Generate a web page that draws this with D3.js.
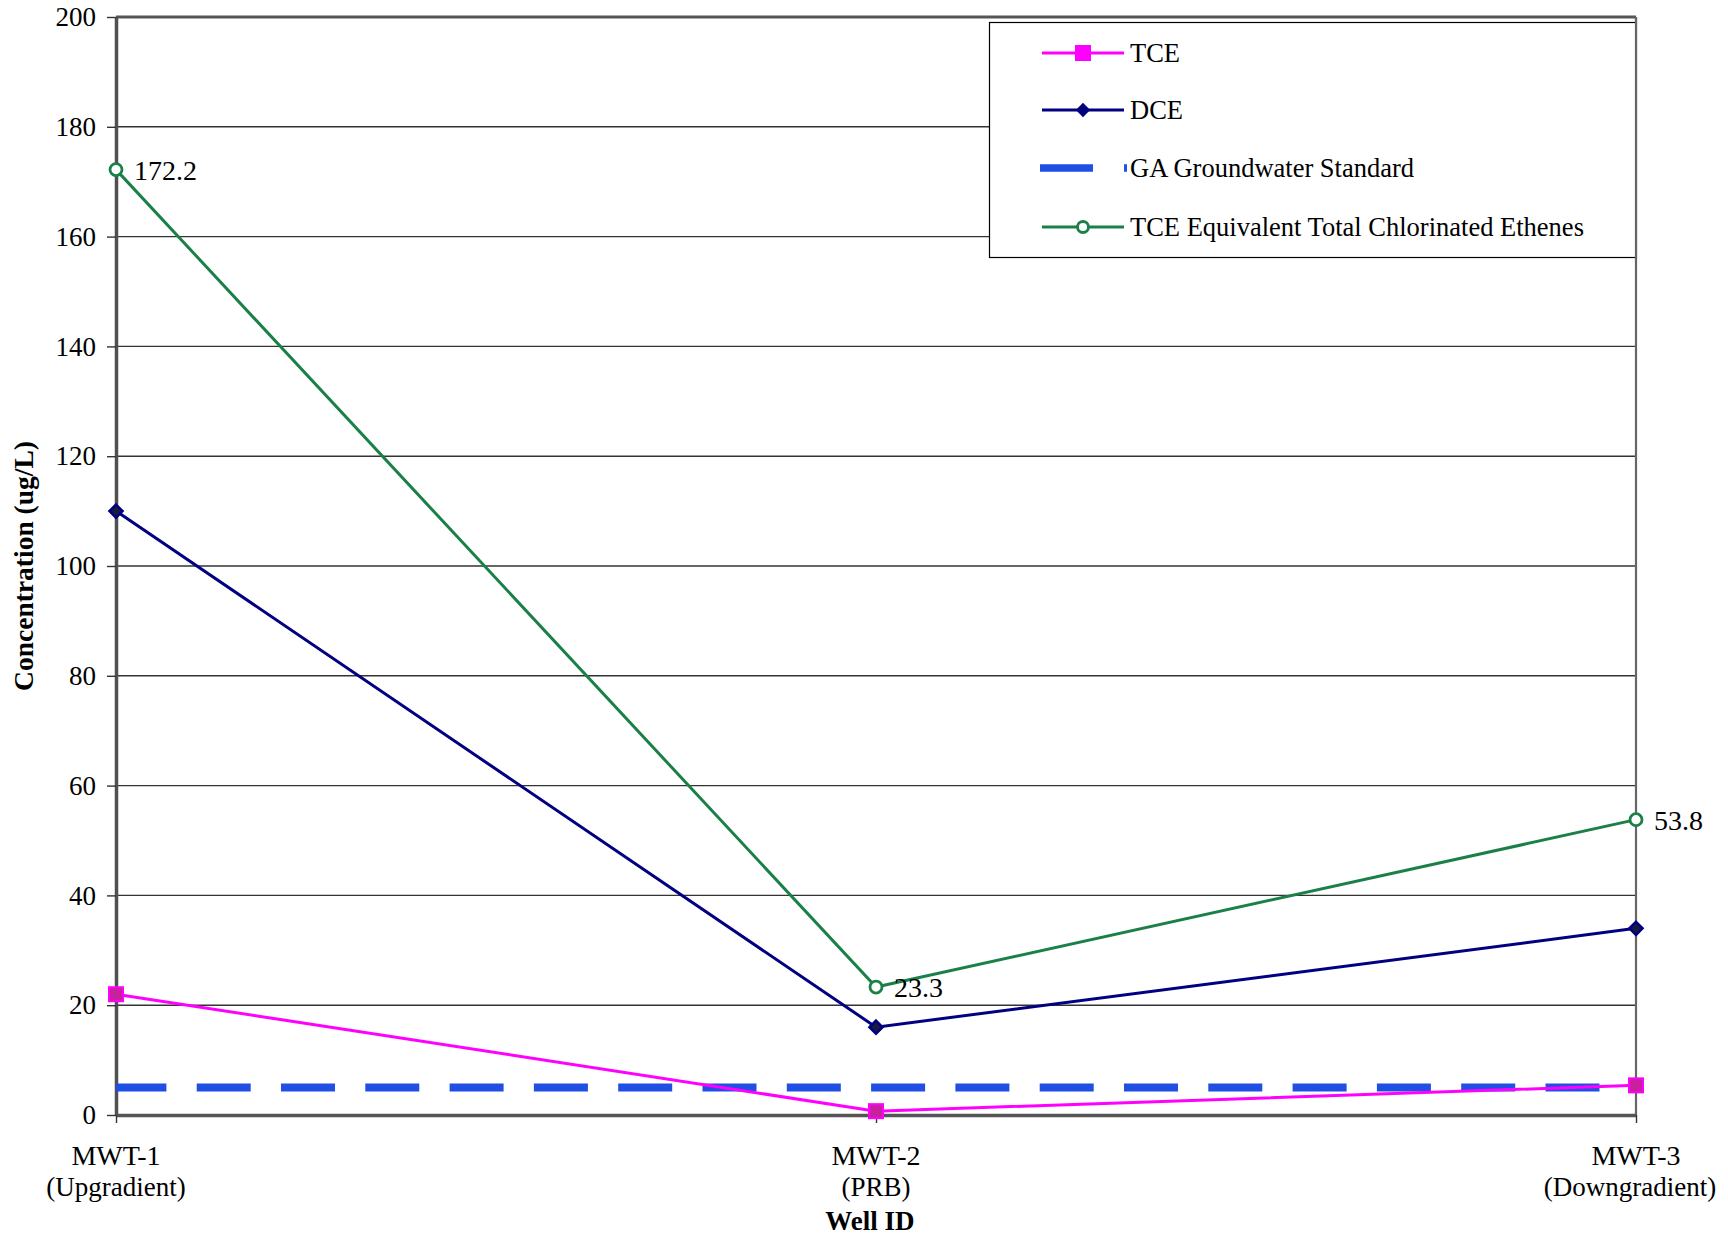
<!DOCTYPE html>
<html>
<head>
<meta charset="utf-8">
<script src="https://cdn.jsdelivr.net/npm/d3@7"></script>
<style>
  html, body { margin: 0; padding: 0; background: #fff; }
  svg { display: block; }
  text { font-family: "Liberation Serif", "Times New Roman", serif; fill: #000; }
</style>
</head>
<body>
<svg id="chart" width="1728" height="1238"></svg>
<script>
// ---- Data ----
const wells = ["MWT-1", "MWT-2", "MWT-3"];
const wellSubLabels = ["(Upgradient)", "(PRB)", "(Downgradient)"];
const tceValues = [22.0, 0.7, 5.4];
const dceValues = [110.0, 16.0, 34.0];
const gaStandard = [5, 5, 5];
const tceEquivalent = [172.2, 23.3, 53.8];
const tceEquivalentLabels = ["172.2", "23.3", "53.8"];
const yTicks = [0, 20, 40, 60, 80, 100, 120, 140, 160, 180, 200];
const legendNames = ["TCE", "DCE", "GA Groundwater Standard", "TCE Equivalent Total Chlorinated Ethenes"];

// ---- Layout ----
const plotLeft = 116, plotRight = 1636, plotTop = 17, plotBottom = 1115;

const svg = d3.select("#chart");

const x = d3.scalePoint().domain(wells).range([plotLeft, plotRight]);
const y = d3.scaleLinear().domain([0, 200]).range([plotBottom, plotTop]);

// gridlines
svg.append("g").selectAll("line")
  .data(yTicks.filter(d => d > 0 && d < 200))
  .join("line")
  .attr("x1", plotLeft).attr("x2", plotRight)
  .attr("y1", d => y(d)).attr("y2", d => y(d))
  .attr("stroke", "#333").attr("stroke-width", 1.4);

// top & right frame
svg.append("line").attr("x1", plotLeft).attr("x2", plotRight).attr("y1", y(200)).attr("y2", y(200))
  .attr("stroke", "#555").attr("stroke-width", 3);
svg.append("line").attr("x1", plotRight).attr("x2", plotRight).attr("y1", y(200)).attr("y2", y(0))
  .attr("stroke", "#666").attr("stroke-width", 2.2);

// y axis
const yAxis = d3.axisLeft(y).tickValues(yTicks).tickSizeInner(9).tickSizeOuter(0).tickPadding(11);
const gy = svg.append("g").attr("transform", `translate(${plotLeft},0)`).call(yAxis);
gy.select(".domain").attr("stroke", "#505050").attr("stroke-width", 3.5);
gy.selectAll(".tick line").attr("stroke", "#333").attr("stroke-width", 1.4);
gy.selectAll(".tick text").attr("font-family", '"Liberation Serif", "Times New Roman", serif')
  .attr("font-size", 27).attr("fill", "#000");

// x axis
const xAxis = d3.axisBottom(x).tickSizeInner(8).tickSizeOuter(0).tickFormat(() => "");
const gx = svg.append("g").attr("transform", `translate(0,${plotBottom})`).call(xAxis);
gx.select(".domain").attr("stroke", "#555").attr("stroke-width", 3.5);
gx.selectAll(".tick line").attr("stroke", "#333").attr("stroke-width", 1.4);

// x tick labels (two lines)
const xl = svg.append("g");
xl.selectAll("text.main").data(wells).join("text")
  .attr("class", "main")
  .attr("x", d => x(d)).attr("y", plotBottom + 50)
  .attr("text-anchor", "middle").attr("font-size", 28).text(d => d);
xl.selectAll("text.sub").data(wells).join("text")
  .attr("class", "sub")
  .attr("x", (d, i) => x(d) - (i === 2 ? 6 : 0)).attr("y", plotBottom + 81)
  .attr("text-anchor", "middle").attr("font-size", 27).text((d, i) => wellSubLabels[i]);

// axis titles
svg.append("text").attr("x", (plotLeft + plotRight) / 2 - 6).attr("y", 1230)
  .attr("text-anchor", "middle").attr("font-size", 27).attr("font-weight", "bold").text("Well ID");
svg.append("text")
  .attr("transform", `translate(33,${(plotTop + plotBottom) / 2}) rotate(-90)`)
  .attr("text-anchor", "middle").attr("font-size", 27.5).attr("font-weight", "bold")
  .text("Concentration (ug/L)");

// ---- series ----
const line = d3.line().x((d, i) => x(wells[i])).y(d => y(d));

const colTCE = "#ff00ff", colDCE = "#000080", colGA = "#1f4fe3", colEq = "#1b8048";
const diamondType = d3.symbolDiamond2 || d3.symbolDiamond;

// GA standard dashed
svg.append("path").datum(gaStandard).attr("d", line)
  .attr("fill", "none").attr("stroke", colGA).attr("stroke-width", 8)
  .attr("stroke-dasharray", "54,30.3").attr("stroke-dashoffset", 3.6);

// TCE
svg.append("path").datum(tceValues).attr("d", line)
  .attr("fill", "none").attr("stroke", colTCE).attr("stroke-width", 3);
svg.append("g").selectAll("rect").data(tceValues).join("rect")
  .attr("x", (d, i) => x(wells[i]) - 7).attr("y", d => y(d) - 7)
  .attr("width", 14).attr("height", 14)
  .attr("fill", "#c8209f").attr("stroke", colTCE).attr("stroke-width", 2);

// DCE
svg.append("path").datum(dceValues).attr("d", line)
  .attr("fill", "none").attr("stroke", colDCE).attr("stroke-width", 3);
svg.append("g").selectAll("path").data(dceValues).join("path")
  .attr("d", d3.symbol().type(diamondType).size(110))
  .attr("transform", (d, i) => `translate(${x(wells[i])},${y(d)})`)
  .attr("fill", "#1a1a40").attr("stroke", colDCE).attr("stroke-width", 2.5);

// TCE equivalent
svg.append("path").datum(tceEquivalent).attr("d", line)
  .attr("fill", "none").attr("stroke", colEq).attr("stroke-width", 3);
svg.append("g").selectAll("circle").data(tceEquivalent).join("circle")
  .attr("cx", (d, i) => x(wells[i])).attr("cy", d => y(d)).attr("r", 6)
  .attr("fill", "#fff").attr("stroke", colEq).attr("stroke-width", 2.8);
svg.append("g").selectAll("text").data(tceEquivalent).join("text")
  .attr("x", (d, i) => x(wells[i]) + 18).attr("y", d => y(d) + 10)
  .attr("font-size", 28).text((d, i) => tceEquivalentLabels[i]);

// ---- legend ----
const lg = svg.append("g");
lg.append("rect").attr("x", 989.5).attr("y", 22.5).attr("width", plotRight - 989.5).attr("height", 235)
  .attr("fill", "#fff").attr("stroke", "#000").attr("stroke-width", 1.2);
svg.append("line").attr("x1", plotRight).attr("x2", plotRight).attr("y1", y(200)).attr("y2", 258)
  .attr("stroke", "#666").attr("stroke-width", 2.2);

const rowY = [53, 110, 168, 227];
const lx0 = 1042, lx1 = 1124, lxm = 1083;
legendNames.forEach((name, i) => {
  const cy = rowY[i];
  if (i === 2) {
    lg.append("line").attr("x1", 1040).attr("x2", 1093).attr("y1", cy).attr("y2", cy)
      .attr("stroke", colGA).attr("stroke-width", 7.5);
    lg.append("line").attr("x1", 1124).attr("x2", 1127).attr("y1", cy).attr("y2", cy)
      .attr("stroke", colGA).attr("stroke-width", 7.5);
  } else {
    const c = i === 0 ? colTCE : i === 1 ? colDCE : colEq;
    lg.append("line").attr("x1", lx0).attr("x2", lx1).attr("y1", cy).attr("y2", cy)
      .attr("stroke", c).attr("stroke-width", 3);
    if (i === 0) {
      lg.append("rect").attr("x", lxm - 8).attr("y", cy - 8).attr("width", 16).attr("height", 16).attr("fill", colTCE);
    } else if (i === 1) {
      lg.append("path").attr("d", d3.symbol().type(diamondType).size(130))
        .attr("transform", `translate(${lxm},${cy})`).attr("fill", colDCE);
    } else {
      lg.append("circle").attr("cx", lxm).attr("cy", cy).attr("r", 5.5)
        .attr("fill", "#fff").attr("stroke", colEq).attr("stroke-width", 2.8);
    }
  }
  lg.append("text").attr("x", 1130).attr("y", cy + 9).attr("font-size", 26.5).text(name);
});
</script>
</body>
</html>
